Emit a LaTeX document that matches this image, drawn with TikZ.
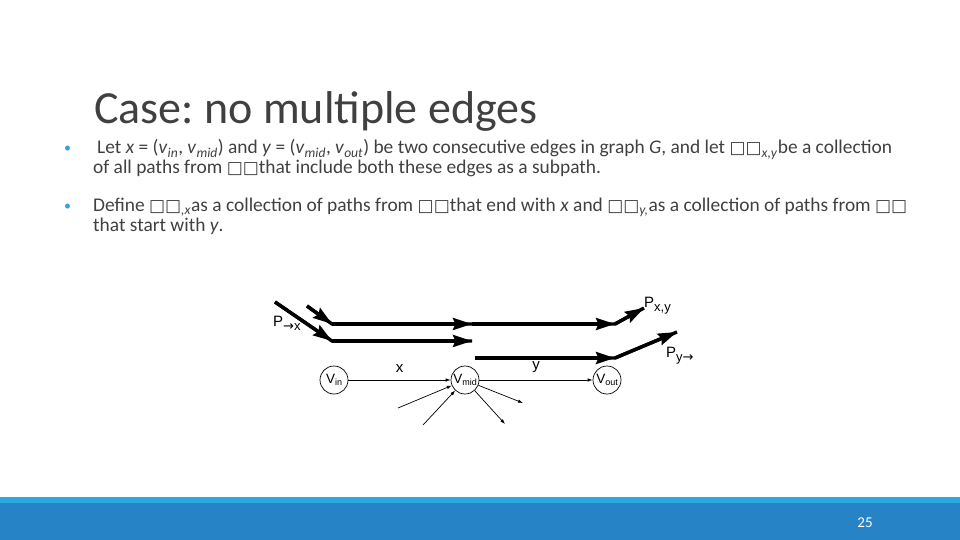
\documentclass[tikz,border=0pt]{standalone}
\usepackage{fontspec}
\setmainfont{Carlito}
\newfontfamily\arialf{Liberation Sans}
\newfontfamily\dejavu{DejaVu Sans}
\usetikzlibrary{arrows.meta}
\frenchspacing
\definecolor{txtgray}{HTML}{404040}
\definecolor{bulletblue}{HTML}{3AA0DA}
\definecolor{bandtop}{HTML}{29ABE2}
\definecolor{bandmain}{HTML}{2683C6}
\newcommand\gbx{{\dejavu\bfseries\fontsize{17}{17}\selectfont □□}}
\newcommand\itx[1]{\textit{#1}}
\newcommand\sbs[1]{\textsubscript{\textit{#1}}}
\newcommand\dsub[1]{\raisebox{-4pt}{\fontsize{13}{13}\selectfont #1}}
\newcommand\vlab[1]{\makebox[0pt]{V\raisebox{-2.5pt}{\fontsize{9}{9}\selectfont #1}}}
\newcommand\rarr{{\dejavu →}}
\tikzset{
  bodytext/.style={anchor=base west, inner sep=0pt, text=txtgray, font=\fontsize{19.4}{20}\selectfont},
  bul/.style={anchor=base west, inner sep=0pt, text=bulletblue, font=\fontsize{14}{14}\selectfont},
  vnode/.style={draw, circle, minimum size=28pt, inner sep=0pt, line width=0.7pt, font=\arialf\fontsize{13.5}{13.5}\selectfont},
  thinedge/.style={line width=0.7pt, -{Latex[length=5pt,width=3.5pt]}},
  thickline/.style={line width=3.4pt, line join=miter},
  thickp/.style={line width=3.4pt, -{Stealth[length=19pt,width=12pt,inset=2.5pt]}},
  dlabel/.style={inner sep=0pt, font=\arialf\fontsize{15}{15}\selectfont},
}
\begin{document}
\begin{tikzpicture}[x=1pt,y=-1pt]
\useasboundingbox (0,0) rectangle (960,540);
% bottom band
\fill[bandmain] (0,497) rectangle (960,540);
\fill[bandtop] (0,497) rectangle (960,503);
\node[inner sep=0pt, text=white, font=\fontsize{15}{15}\selectfont] (pg) at (865,523) {25};
% title
\node[anchor=base west, inner sep=0pt, text=txtgray, font=\fontsize{46}{46}\selectfont] (title) at (94,124) {Case: no multiple edges};
% bullets
\node[bul] (b1) at (64,153) {•};
\node[bul] (b2) at (64,210) {•};
\node[bodytext] (l1) at (97,154) {Let \itx{x} = (\itx{v}\sbs{in}, \itx{v}\sbs{mid}) and \itx{y} = (\itx{v}\sbs{mid}, \itx{v}\sbs{out}) be two consecutive edges in graph \itx{G}, and let \gbx\sbs{x,y}be a collection};
\node[bodytext] (l2) at (93,174) {of all paths from \gbx that include both these edges as a subpath.};
\node[bodytext] (l3) at (93,211) {Define \gbx\sbs{,x}as a collection of paths from \gbx that end with \itx{x} and \gbx\sbs{y,}as a collection of paths from \gbx};
\node[bodytext] (l4) at (93,231) {that start with \itx{y}.};
% diagram nodes
\node[vnode] (vin) at (334,380) {\vlab{in}};
\node[vnode] (vmid) at (465,380) {\vlab{mid}};
\node[vnode] (vout) at (607,380) {\vlab{out}};
\draw[thinedge] (vin) -- node[dlabel, above=7pt] (lx) {x} (vmid);
\draw[thinedge] (vmid) -- node[dlabel, above=7pt] (ly) {y} (vout);
\coordinate (d1) at (398,408);
\coordinate (d2) at (423,425);
\coordinate (e1) at (523,403);
\coordinate (e2) at (505,424);
\draw[thinedge] (d1) -- (vmid);
\draw[thinedge] (d2) -- (vmid);
\draw[thinedge] (vmid) -- (e1);
\draw[thinedge] (vmid) -- (e2);
% thick paths
\coordinate (a1) at (307,306);
\coordinate (a2) at (332,324);
\coordinate (a3) at (472,324);
\coordinate (a4) at (615,324);
\coordinate (a5) at (644,308);
\coordinate (p1) at (275,302);
\coordinate (p2) at (332,341);
\coordinate (p3) at (472,341);
\coordinate (c1) at (475,358);
\coordinate (c2) at (615,358);
\coordinate (c3) at (677,332);
\draw[thickline] (a1) -- (a2) -- (a4) -- (a5);
\draw[thickline] (p1) -- (p2) -- (p3);
\draw[thickline] (c1) -- (c2) -- (c3);
\draw[thickp] (a1) -- (a2);
\draw[thickp] (a2) -- (a3);
\draw[thickp] (a3) -- (a4);
\draw[thickp] (a4) -- (a5);
\draw[thickp] (p1) -- (p2);
\draw[thickp] (p2) -- (p3);
\draw[thickp] (c1) -- (c2);
\draw[thickp] (c2) -- (c3);
% path labels
\node[dlabel, anchor=base west] (pxy) at (644,307) {P\dsub{x,y}};
\node[dlabel, anchor=base west] (px) at (273,326) {P\dsub{\rarr x}};
\node[dlabel, anchor=base west] (py) at (666,357) {P\dsub{y\rarr}};
\end{tikzpicture}
\end{document}
